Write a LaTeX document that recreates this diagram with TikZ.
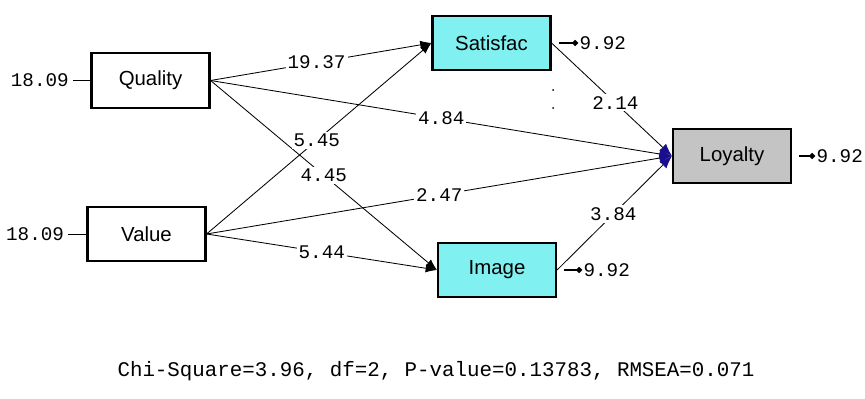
\documentclass[tikz,border=0pt]{standalone}
\usepackage{fontspec}
\setmainfont{Liberation Sans}
\newfontfamily\numfont{Liberation Mono}
\usetikzlibrary{positioning,arrows.meta}
\definecolor{boxcyan}{RGB}{128,240,240}
\definecolor{boxgray}{RGB}{196,196,196}
\definecolor{tipblue}{RGB}{25,15,140}

\begin{document}
\begin{tikzpicture}[x=0.025cm, y=-0.025cm]
	\tikzset{box/.style={rectangle, draw=black, line width=1.5pt, minimum width=2.95cm, minimum height=1.37cm, font=\fontsize{14.5}{17}\selectfont},
		num/.style={font=\numfont\fontsize{13.7}{16}\selectfont, inner sep=1pt},
		lbl/.style={num, fill=white, inner sep=1.5pt},
		path/.style={line width=0.6pt, -{Latex[length=8pt, width=6pt]}},
		toloy/.style={line width=0.6pt, -{Latex[length=9pt, width=7pt, color=tipblue]}},
		errline/.style={line width=1.4pt, shorten <=5pt, -{Circle[length=4pt]}}};

	\useasboundingbox (0,0) rectangle (865,399);

	\node[box] (quality) at (150.5, 80.5) {Quality};
	\node[box] (value) at (146.5, 234) {Value};
	\node[box, fill=boxcyan] (satis) at (491.5, 43) {Satisfac};
	\node[box, fill=boxcyan] (image) at (497, 270) {Image};
	\node[box, fill=boxgray] (loyalty) at (732, 156) {Loyalty};

	\node[num, left=0.5cm of quality] (eq) {18.09};
	\node[num, left=0.52cm of value] (ev) {18.09};
	\node[num, right=0.66cm of satis] (es) {9.92};
	\node[num, right=0.62cm of image] (ei) {9.92};
	\node[num, right=0.57cm of loyalty] (el) {9.92};

	\draw[line width=0.6pt, shorten <=2pt] (eq) to (quality);
	\draw[line width=0.6pt, shorten <=2pt] (ev) to (value);
	\draw[errline] (satis) to (es);
	\draw[errline] (image) to (ei);
	\draw[errline] (loyalty) to (el);

	\draw[path] (quality.east) to node[lbl, pos=0.48] {19.37} (satis.west);
	\draw[path] (quality.east) to node[lbl, pos=0.5] {4.45} (image.west);
	\draw[path] (value.east) to node[lbl, pos=0.49] {5.45} (satis.west);
	\draw[path] (value.east) to node[lbl, pos=0.5] {5.44} (image.west);

	\draw[toloy] (quality.east) to node[lbl, pos=0.5] {4.84} (loyalty.west);
	\draw[toloy] (value.east) to node[lbl, pos=0.5] {2.47} (loyalty.west);
	\draw[toloy] (satis.east) to node[lbl, pos=0.53] {2.14} (loyalty.west);
	\draw[toloy] (image.east) to node[lbl, pos=0.49] {3.84} (loyalty.west);

	\fill (553, 90) circle (1);
	\fill (553, 108) circle (1);

	\node[font=\numfont\fontsize{14.8}{18}\selectfont] (fit) at (436, 371) {Chi-Square=3.96, df=2, P-value=0.13783, RMSEA=0.071};
\end{tikzpicture}
\end{document}
